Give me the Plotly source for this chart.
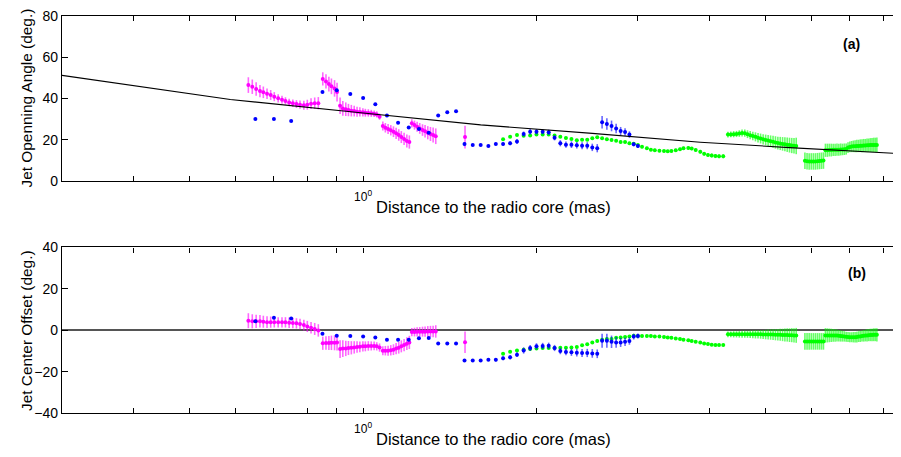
import math
import plotly.graph_objects as go
from plotly.subplots import make_subplots

# ---------------- data ----------------
# magenta series
mag_x = [0.632, 0.642, 0.652, 0.662, 0.671, 0.681, 0.691, 0.701, 0.712, 0.723,
         0.733, 0.744, 0.755, 0.766, 0.777, 0.789, 0.800, 0.812, 0.824, 0.836,
         0.851, 0.862, 0.872, 0.881, 0.892, 0.901,
         0.912, 0.922, 0.933, 0.943, 0.954, 0.965, 0.976, 0.987, 0.999, 1.009,
         1.021, 1.033, 1.045, 1.056, 1.068,
         1.082, 1.093, 1.105, 1.117, 1.129, 1.141, 1.153, 1.165, 1.178, 1.191, 1.203,
         1.215, 1.228, 1.241, 1.254, 1.268, 1.281, 1.295, 1.309, 1.323, 1.337,
         1.503]
mag_angle = [46.5, 45.7, 44.6, 43.6, 43.0, 42.3, 41.7, 40.9, 40.1, 39.4,
             38.8, 38.1, 37.7, 37.3, 37.0, 36.7, 37.0, 37.5, 37.7, 37.7,
             49.5, 48.3, 47.0, 45.9, 44.9, 43.1,
             36.5, 35.2, 34.8, 34.4, 34.1, 33.9, 33.6, 33.5, 33.3, 33.1,
             33.0, 32.8, 32.6, 32.3, 31.2,
             26.7, 25.8, 25.2, 24.6, 23.9, 23.1, 22.3, 21.3, 20.4, 19.4, 18.9,
             28.0, 27.1, 26.3, 25.5, 24.7, 24.1, 23.4, 22.8, 22.3, 21.7,
             21.3]
mag_angle_err = [3.8, 3.5, 3.3, 3.0, 2.8, 2.6, 2.4, 2.2, 2.0, 1.9,
                 1.8, 1.8, 1.8, 1.9, 2.0, 2.2, 2.4, 2.6, 2.8, 3.0,
                 3.2, 3.4, 3.6, 3.8, 4.0, 4.5,
                 4.0, 3.6, 3.3, 3.0, 2.8, 2.6, 2.4, 2.2, 2.0, 1.9,
                 1.8, 1.7, 1.6, 1.5, 1.5,
                 2.2, 2.3, 2.4, 2.5, 2.6, 2.7, 2.8, 2.9, 3.0, 3.1, 3.2,
                 2.0, 2.2, 2.4, 2.6, 2.8, 3.0, 3.2, 3.4, 3.6, 3.8,
                 5.5]
mag_offset = [4.6, 4.3, 4.3, 4.3, 4.1, 3.9, 3.9, 3.9, 3.8, 3.8,
              3.8, 3.6, 3.5, 3.3, 3.0, 2.5, 1.8, 1.2, 0.6, -0.1,
              -6.3, -6.2, -6.2, -6.1, -6.1, -6.0,
              -9.1, -8.9, -8.8, -8.6, -8.5, -8.3, -8.1, -8.0, -7.8, -7.8,
              -7.6, -7.6, -7.6, -7.8, -8.4,
              -9.9, -9.9, -9.9, -9.7, -9.4, -8.9, -8.5, -7.8, -7.2, -6.5, -5.9,
              -0.9, -0.9, -0.8, -0.8, -0.7, -0.7, -0.6, -0.6, -0.6, -0.6,
              -5.8]
mag_offset_err = [3.6, 3.4, 3.2, 3.0, 2.9, 2.8, 2.7, 2.6, 2.5, 2.5,
                  2.5, 2.5, 2.5, 2.5, 2.5, 2.6, 2.7, 2.8, 2.9, 3.0,
                  3.2, 3.3, 3.4, 3.5, 3.6, 3.8,
                  4.3, 4.0, 3.7, 3.4, 3.2, 3.0, 2.8, 2.6, 2.5, 2.4,
                  2.3, 2.2, 2.1, 2.0, 2.0,
                  2.2, 2.3, 2.4, 2.5, 2.6, 2.7, 2.8, 2.9, 3.0, 3.1, 3.2,
                  2.0, 2.1, 2.2, 2.3, 2.4, 2.5, 2.6, 2.7, 2.8, 3.0,
                  5.2]

# blue series
blue_x = [0.65, 0.70, 0.75, 0.85, 0.90, 0.95, 1.00, 1.05, 1.10, 1.15,
          1.20, 1.25, 1.30, 1.35, 1.40, 1.45, 1.50, 1.55, 1.60, 1.65,
          1.70, 1.75, 1.80, 1.85, 1.90, 1.95, 2.00, 2.05, 2.10, 2.15,
          2.20, 2.25, 2.30, 2.35, 2.40, 2.45, 2.50, 2.55, 2.60, 2.65,
          2.70, 2.75, 2.80, 2.85, 2.90, 2.95, 3.00]
blue_angle = [30.1, 30.1, 29.1, 43.1, 44.0, 42.2, 40.2, 37.2, 31.7, 28.3,
              26.0, 25.2, 23.4, 31.7, 33.3, 33.8, 17.9, 17.5, 17.5, 17.0,
              17.9, 17.9, 18.3, 19.2, 22.8, 23.9, 23.9, 23.9, 23.6, 21.0,
              18.3, 17.6, 17.6, 17.3, 17.1, 17.1, 16.3, 15.9, 28.5, 27.6,
              26.7, 25.4, 24.2, 23.8, 22.5, 17.8, 17.0]
blue_angle_err = [0, 0, 0, 0, 0, 0, 0, 0, 0, 0,
                  0, 0, 0, 0, 0, 0, 1.0, 0.5, 0.5, 0.5,
                  0.6, 0.8, 1.0, 1.2, 1.2, 1.3, 1.3, 1.3, 1.3, 1.3,
                  1.5, 1.5, 1.6, 1.6, 1.7, 1.7, 1.8, 2.0, 3.0, 2.8,
                  2.6, 2.3, 2.0, 1.8, 1.6, 1.0, 1.0]
blue_offset = [4.3, 6.0, 5.6, -1.7, -2.7, -2.8, -3.1, -3.5, -4.6, -4.6,
               -4.6, -3.9, -3.8, -6.4, -6.4, -6.4, -14.6, -14.6, -14.6, -14.3,
               -14.3, -13.6, -13.1, -11.8, -9.8, -8.6, -7.8, -7.6, -7.5, -8.6,
               -10.0, -10.5, -10.7, -10.9, -11.0, -11.0, -11.2, -11.4, -5.1, -5.1,
               -5.6, -5.9, -5.9, -5.6, -5.2, -3.1, -2.8]
blue_offset_err = [0, 0, 0, 0, 0, 0, 0, 0, 0, 0,
                   0, 0, 0, 0, 0, 0, 0.5, 0.5, 0.5, 0.5,
                   0.8, 0.9, 1.0, 1.2, 1.5, 1.5, 1.5, 1.5, 1.5, 1.5,
                   1.6, 1.6, 1.7, 1.8, 1.9, 2.0, 2.1, 2.1, 3.4, 3.4,
                   3.0, 2.6, 2.2, 2.0, 1.8, 1.4, 1.2]

# green series
green_x = [1.75, 1.80, 1.85, 1.90, 1.95, 2.00, 2.05, 2.10, 2.15, 2.20,
           2.25, 2.30, 2.35, 2.40, 2.45, 2.50, 2.55, 2.60, 2.65, 2.70,
           2.75, 2.80, 2.85, 2.90, 2.95, 3.00,
           3.05, 3.11, 3.16, 3.21, 3.27, 3.33, 3.38, 3.43, 3.49, 3.55,
           3.60, 3.67, 3.72, 3.78, 3.85, 3.91, 3.97, 4.03, 4.09, 4.15, 4.22,
           4.30, 4.35, 4.40, 4.45, 4.50, 4.55, 4.60, 4.65, 4.70, 4.75,
           4.80, 4.85, 4.90, 4.95, 5.00, 5.05, 5.10, 5.15, 5.20, 5.25,
           5.30, 5.35, 5.40, 5.45, 5.50, 5.55, 5.60, 5.65,
           5.85, 5.90, 5.95, 6.00, 6.05, 6.10, 6.15, 6.20, 6.25, 6.30,
           6.35, 6.40, 6.45, 6.50, 6.55, 6.60, 6.65, 6.70, 6.75, 6.80,
           6.85, 6.90, 6.95, 7.00, 7.05, 7.10, 7.15, 7.20, 7.25, 7.30,
           7.35, 7.40, 7.45, 7.50, 7.55, 7.60, 7.65, 7.70, 7.75, 7.80]
green_angle = [20.2, 21.5, 22.3, 22.0, 22.1, 22.6, 22.6, 22.6, 22.1, 21.5,
               20.8, 20.4, 19.7, 20.0, 20.0, 20.7, 21.2, 20.7, 20.2, 19.9,
               19.5, 18.9, 18.9, 18.3, 18.1, 17.5,
               16.6, 15.9, 15.2, 14.9, 14.7, 14.5, 14.4, 14.5, 14.9, 15.4,
               15.9, 16.0, 15.7, 15.0, 14.2, 13.2, 12.6, 12.4, 12.1, 12.0, 12.0,
               22.5, 22.6, 22.7, 22.8, 23.0, 23.3, 23.2, 22.7, 22.2, 21.8,
               21.4, 21.0, 20.6, 20.2, 19.9, 19.6, 19.3, 19.0, 18.7, 18.4,
               18.2, 18.0, 17.8, 17.6, 17.4, 17.2, 17.1, 17.0,
               9.8, 9.6, 9.5, 9.5, 9.5, 9.5, 9.6, 9.7, 9.8, 9.9,
               14.9, 14.9, 15.0, 15.0, 15.1, 15.1, 15.2, 15.2, 15.3, 15.3,
               15.4, 15.5, 16.2, 16.5, 16.7, 16.8, 16.9, 17.0, 17.0, 17.1,
               17.1, 17.2, 17.2, 17.3, 17.3, 17.4, 17.4, 17.5, 17.5, 17.5]
green_angle_err = [0.6, 0.6, 0.6, 0.6, 0.6, 0.6, 0.6, 0.6, 0.6, 0.6,
                   0.6, 0.6, 0.6, 0.6, 0.6, 0.6, 0.6, 0.6, 0.6, 0.6,
                   0.6, 0.6, 0.6, 0.6, 0.6, 0.6,
                   0.7, 0.7, 0.7, 0.7, 0.7, 0.7, 0.7, 0.7, 0.7, 0.7,
                   0.8, 0.8, 0.8, 0.8, 0.9, 0.9, 0.9, 1.0, 1.0, 1.0, 1.0,
                   1.4, 1.4, 1.5, 1.5, 1.6, 1.7, 1.8, 1.9, 2.0, 2.1,
                   2.2, 2.3, 2.4, 2.5, 2.6, 2.7, 2.8, 2.9, 3.0, 3.1,
                   3.2, 3.3, 3.4, 3.5, 3.6, 3.7, 3.8, 4.0,
                   4.0, 4.0, 4.0, 4.0, 4.0, 4.0, 4.0, 4.0, 4.0, 4.0,
                   3.2, 3.2, 3.1, 3.1, 3.0, 3.0, 3.0, 2.9, 2.9, 2.8,
                   2.8, 2.7, 2.6, 2.6, 2.7, 2.8, 2.9, 3.0, 3.0, 3.1,
                   3.1, 3.2, 3.2, 3.3, 3.3, 3.4, 3.4, 3.5, 3.5, 3.6]
green_offset = [-11.4, -10.4, -9.8, -9.4, -9.1, -8.8, -8.6, -8.6, -8.6, -8.5,
                -8.5, -8.3, -8.1, -7.3, -6.8, -5.9, -5.2, -4.6, -4.3, -4.3,
                -3.6, -3.5, -3.3, -3.1, -2.7, -2.8,
                -2.8, -2.8, -2.8, -3.0, -3.1, -3.3, -3.5, -3.6, -4.0, -4.3,
                -4.6, -4.9, -5.2, -5.6, -6.0, -6.4, -6.7, -7.0, -7.2, -7.2, -7.2,
                -2.0, -2.0, -2.0, -2.0, -2.0, -2.0, -2.0, -2.0, -2.0, -2.0,
                -2.0, -2.0, -2.0, -2.1, -2.1, -2.1, -2.1, -2.1, -2.2, -2.2,
                -2.2, -2.3, -2.3, -2.3, -2.4, -2.4, -2.5, -2.5,
                -5.4, -5.4, -5.4, -5.4, -5.4, -5.4, -5.4, -5.4, -5.4, -5.4,
                -2.5, -2.5, -2.5, -2.5, -2.5, -2.6, -2.6, -2.7, -2.8, -2.9,
                -3.0, -3.2, -3.3, -3.4, -3.4, -3.4, -3.4, -3.3, -3.1, -3.0,
                -2.8, -2.7, -2.6, -2.5, -2.4, -2.3, -2.3, -2.2, -2.2, -2.2]
green_offset_err = [0.6, 0.6, 0.6, 0.6, 0.6, 0.6, 0.6, 0.6, 0.6, 0.6,
                    0.6, 0.6, 0.6, 0.6, 0.6, 0.6, 0.6, 0.6, 0.6, 0.6,
                    0.6, 0.6, 0.6, 0.6, 0.6, 0.6,
                    0.6, 0.6, 0.6, 0.6, 0.6, 0.6, 0.6, 0.6, 0.6, 0.6,
                    0.6, 0.6, 0.6, 0.6, 0.6, 0.6, 0.6, 0.6, 0.6, 0.6, 0.6,
                    1.4, 1.4, 1.5, 1.5, 1.6, 1.6, 1.7, 1.7, 1.8, 1.9,
                    2.0, 2.0, 2.1, 2.2, 2.3, 2.4, 2.5, 2.6, 2.7, 2.8,
                    2.9, 3.0, 3.1, 3.2, 3.3, 3.4, 3.5, 3.6,
                    4.0, 4.0, 4.0, 4.0, 4.0, 4.0, 4.0, 4.0, 4.0, 4.0,
                    3.5, 3.4, 3.3, 3.2, 3.1, 3.0, 2.9, 2.8, 2.7, 2.6,
                    2.5, 2.4, 2.4, 2.4, 2.4, 2.5, 2.5, 2.6, 2.6, 2.7,
                    2.7, 2.8, 2.8, 2.9, 2.9, 3.0, 3.0, 3.1, 3.1, 3.2]

# fitted power-law line
fit_x = [0.30, 0.588, 1.0, 1.6, 2.5, 3.85, 5.5, 8.7]
fit_y = [51.2, 39.5, 33.0, 27.2, 23.1, 18.8, 16.2, 13.2]

# axes
x_min, x_max = 0.3, 8.59
x_tickvals = [0.3, 0.4, 0.5, 0.6, 0.7, 0.8, 0.9, 1, 2, 3, 4, 5, 6, 7, 8]
x_ticktext = [" ", " ", " ", " ", " ", " ", " ", "10<sup>0</sup>", " ", " ", " ", " ", " ", " ", " "]
y1_tickvals = [0, 20, 40, 60, 80]
y2_tickvals = [-40, -20, 0, 20, 40]
y2_ticktext = ["\u221240", "\u221220", "0", "20", "40"]

x_title = "Distance to the radio core (mas)"
y1_title = "Jet Openning Angle (deg.)"
y2_title = "Jet Center Offset (deg.)"

# ---------------- figure ----------------
FONT = "Liberation Sans, Arial, Helvetica, sans-serif"
MAG, BLUE, GREEN = "#ff00ff", "#0000ff", "#00ff00"
BODY = 8  # default page margin of the html body

fig = make_subplots(rows=2, cols=1, vertical_spacing=0.0)


def add_series(row, x, y, err, color, bar_rgba):
    fig.add_trace(go.Scatter(
        x=x, y=y, mode="markers",
        marker=dict(color=color, size=4, line=dict(width=0)),
        error_y=dict(type="data", array=err, visible=True,
                     color=bar_rgba, thickness=1.6, width=0),
        showlegend=False, hoverinfo="skip"), row=row, col=1)


add_series(1, mag_x, mag_angle, mag_angle_err, MAG, "rgba(255,0,255,0.6)")
add_series(1, green_x, green_angle, green_angle_err, GREEN, "rgba(0,255,0,0.6)")
add_series(1, blue_x, blue_angle, blue_angle_err, BLUE, "rgba(0,0,255,0.6)")
fig.add_trace(go.Scatter(x=fit_x, y=fit_y, mode="lines",
                         line=dict(color="black", width=1.1),
                         showlegend=False, hoverinfo="skip"), row=1, col=1)

add_series(2, mag_x, mag_offset, mag_offset_err, MAG, "rgba(255,0,255,0.6)")
add_series(2, green_x, green_offset, green_offset_err, GREEN, "rgba(0,255,0,0.6)")
add_series(2, blue_x, blue_offset, blue_offset_err, BLUE, "rgba(0,0,255,0.6)")

H_PLOT = 457 - 16 - 44
top_lo = 1 - 165 / H_PLOT
bot_hi = 165.6 / H_PLOT

xcommon = dict(type="log", range=[math.log10(x_min), math.log10(x_max)],
               tickmode="array", tickvals=x_tickvals, ticktext=x_ticktext,
               ticks="inside", ticklen=5, tickwidth=1, tickcolor="black",
               showline=True, linecolor="black", linewidth=1.3, mirror="ticks",
               showgrid=False, zeroline=False, automargin=False,
               ticklabeloverflow="allow",
               tickfont=dict(family=FONT, size=12, color="black"),
               ticklabelstandoff=4)
fig.update_xaxes(**xcommon)
fig.update_yaxes(ticks="inside", ticklen=6, tickwidth=1, tickcolor="black",
                 showline=True, linecolor="black", linewidth=1.3, mirror=False,
                 showgrid=False, automargin=False, ticklabeloverflow="allow",
                 tickfont=dict(family=FONT, size=14, color="black"))
fig.update_yaxes(range=[0, 80], tickvals=y1_tickvals, zeroline=False,
                 domain=[top_lo, 1], row=1, col=1)
fig.update_yaxes(range=[-40, 40], tickvals=y2_tickvals, ticktext=y2_ticktext,
                 zeroline=True, zerolinecolor="#555555", zerolinewidth=1.5,
                 domain=[0, bot_hi], row=2, col=1)


def px_x(p):
    return (p - 62) / 839.0


def px_y(p):
    return (413 - p) / H_PLOT


ann = []
ann.append(dict(text=x_title, x=px_x(493), y=px_y(207), xref="paper", yref="paper",
                xanchor="center", yanchor="middle", showarrow=False,
                font=dict(family=FONT, size=16.5, color="black")))
ann.append(dict(text=x_title, x=px_x(493), y=px_y(439), xref="paper", yref="paper",
                xanchor="center", yanchor="middle", showarrow=False,
                font=dict(family=FONT, size=16.5, color="black")))
ann.append(dict(text=y1_title, x=px_x(26), y=px_y(98.5), xref="paper", yref="paper",
                xanchor="center", yanchor="middle", textangle=-90, showarrow=False,
                font=dict(family=FONT, size=15.4, color="black")))
ann.append(dict(text=y2_title, x=px_x(26), y=px_y(331), xref="paper", yref="paper",
                xanchor="center", yanchor="middle", textangle=-90, showarrow=False,
                font=dict(family=FONT, size=15.4, color="black")))
ann.append(dict(text="<b>(a)</b>", x=px_x(851), y=px_y(44), xref="paper", yref="paper",
                xanchor="center", yanchor="middle", showarrow=False,
                font=dict(family=FONT, size=14, color="black")))
ann.append(dict(text="<b>(b)</b>", x=px_x(857), y=px_y(273), xref="paper", yref="paper",
                xanchor="center", yanchor="middle", showarrow=False,
                font=dict(family=FONT, size=14, color="black")))

# the page body adds an 8 px offset, so the figure is made 8 px smaller
# and its left/top margins are reduced by the same amount
fig.update_layout(width=901 - BODY, height=457 - BODY,
                  margin=dict(l=62 - BODY, r=0, t=16 - BODY, b=44, pad=0,
                              autoexpand=False),
                  paper_bgcolor="white", plot_bgcolor="white",
                  annotations=ann, showlegend=False)

fig.write_html("out.html")
